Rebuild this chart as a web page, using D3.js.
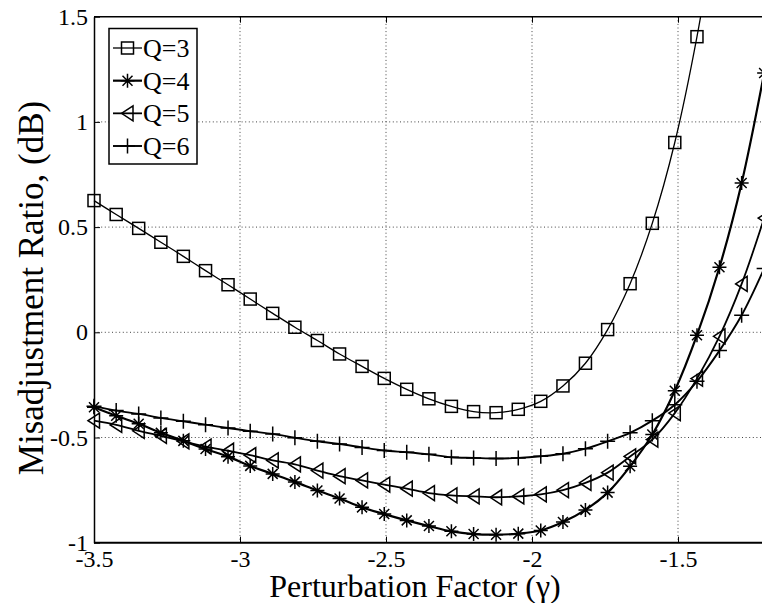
<!DOCTYPE html>
<html>
<head>
<meta charset="utf-8">
<script src="https://cdn.jsdelivr.net/npm/d3@7"></script>
<style>
  html, body { margin: 0; padding: 0; background: #fff; }
  svg { display: block; }
  .label { font-family: "Liberation Serif", "Times New Roman", serif; fill: #000; }
</style>
</head>
<body>
<div id="chart"></div>
<script>
// perturbation factor at each marker
const gamma = [-3.500, -3.424, -3.347, -3.271, -3.194, -3.118, -3.041, -2.965, -2.888, -2.812,
  -2.735, -2.659, -2.582, -2.506, -2.429, -2.353, -2.276, -2.200, -2.123, -2.047,
  -1.970, -1.894, -1.817, -1.741, -1.664, -1.588, -1.511, -1.435, -1.358, -1.282, -1.205];

const q3 = [0.626, 0.56, 0.494, 0.428, 0.361, 0.293, 0.226, 0.158, 0.090, 0.024,
  -0.039, -0.103, -0.162, -0.219, -0.271, -0.316, -0.352, -0.377, -0.382, -0.366,
  -0.328, -0.255, -0.147, 0.013, 0.231, 0.518, 0.902, 1.405, 2.05];
const q4 = [-0.356, -0.397, -0.435, -0.478, -0.516, -0.555, -0.591, -0.635, -0.673, -0.711,
  -0.752, -0.790, -0.832, -0.864, -0.894, -0.921, -0.946, -0.959, -0.962, -0.957,
  -0.942, -0.902, -0.844, -0.762, -0.637, -0.486, -0.278, -0.014, 0.309, 0.710, 1.232];
const q5 = [-0.42, -0.44, -0.468, -0.492, -0.518, -0.543, -0.563, -0.584, -0.609, -0.628,
  -0.657, -0.684, -0.704, -0.724, -0.743, -0.764, -0.775, -0.780, -0.784, -0.780,
  -0.770, -0.750, -0.716, -0.667, -0.590, -0.510, -0.384, -0.220, -0.019, 0.230, 0.543];
const q6 = [-0.352, -0.372, -0.388, -0.407, -0.423, -0.439, -0.455, -0.470, -0.483, -0.501,
  -0.518, -0.531, -0.547, -0.562, -0.570, -0.580, -0.594, -0.597, -0.600, -0.597,
  -0.589, -0.577, -0.553, -0.518, -0.478, -0.420, -0.344, -0.233, -0.087, 0.081, 0.303];

const seriesNames = ['Q=3', 'Q=4', 'Q=5', 'Q=6'];
const xTicks = [-3.5, -3, -2.5, -2, -1.5];
const xTickLabels = ['-3.5', '-3', '-2.5', '-2', '-1.5'];
const yTicks = [-1, -0.5, 0, 0.5, 1, 1.5];
const yTickLabels = ['-1', '-0.5', '0', '0.5', '1', '1.5'];

const width = 762;
const height = 603;
const serif = '"Liberation Serif", "Times New Roman", serif';
// the scanned figure is cut at the right, so the axes run past the page edge
const plot = { left: 94, top: 16.7, bottom: 542.7, right: 824 };

const svg = d3.select('#chart').append('svg')
  .attr('width', width)
  .attr('height', height)
  .attr('viewBox', `0 0 ${width} ${height}`);

svg.append('rect').attr('width', width).attr('height', height).attr('fill', '#fff');

const x = d3.scaleLinear().domain([-3.5, -1]).range([plot.left, plot.right]);
const y = d3.scaleLinear().domain([-1, 1.5]).range([plot.bottom, plot.top]);

svg.append('defs').append('clipPath').attr('id', 'plot-clip')
  .append('rect')
  .attr('x', 0)
  .attr('y', plot.top)
  .attr('width', width)
  .attr('height', plot.bottom - plot.top);

// dotted grid
const grid = svg.append('g').attr('stroke', '#444').attr('stroke-width', 1).attr('stroke-dasharray', '1,2.6');
grid.selectAll('.gx').data(xTicks.slice(1)).join('line')
  .attr('x1', (d) => x(d)).attr('x2', (d) => x(d))
  .attr('y1', plot.top).attr('y2', plot.bottom);
grid.selectAll('.gy').data(yTicks.slice(1, -1)).join('line')
  .attr('x1', plot.left).attr('x2', width)
  .attr('y1', (d) => y(d)).attr('y2', (d) => y(d));

const series = [
  { name: seriesNames[0], values: q3, marker: 'square', width: 1.3 },
  { name: seriesNames[1], values: q4, marker: 'star', width: 2.2 },
  { name: seriesNames[2], values: q5, marker: 'triangle', width: 1.8 },
  { name: seriesNames[3], values: q6, marker: 'plus', width: 1.9 }
];

function drawMarker(g, type) {
  g.attr('fill', 'none').attr('stroke', '#000').attr('stroke-width', 1.5);
  if (type === 'square') {
    g.append('rect').attr('x', -6).attr('y', -6).attr('width', 12).attr('height', 12);
  } else if (type === 'star') {
    g.append('path').attr('d', 'M0,-7V7M-7,0H7M-5,-5L5,5M-5,5L5,-5');
  } else if (type === 'triangle') {
    g.append('path').attr('d', 'M-6,0L5.5,-7.5V7.5Z');
  } else {
    g.append('path').attr('d', 'M0,-7.5V7.5M-7.5,0H7.5');
  }
}

const line = d3.line()
  .x((d) => x(d.g))
  .y((d) => y(d.v))
  .curve(d3.curveCatmullRom.alpha(0.5));

const data = svg.append('g').attr('clip-path', 'url(#plot-clip)');

series.forEach((s) => {
  const pts = s.values.map((v, i) => ({ g: gamma[i], v }));
  data.append('path')
    .datum(pts)
    .attr('fill', 'none')
    .attr('stroke', '#000')
    .attr('stroke-width', s.width)
    .attr('d', line);
  data.append('g').selectAll('g').data(pts).join('g')
    .attr('transform', (d) => `translate(${x(d.g)},${y(d.v)})`)
    .each(function () { drawMarker(d3.select(this), s.marker); });
});

// axes, MATLAB style with inward ticks
const xAxis = svg.append('g')
  .attr('transform', `translate(0,${plot.bottom})`)
  .call(d3.axisBottom(x).tickValues(xTicks).tickFormat((d, i) => xTickLabels[i])
    .tickSizeInner(-6).tickSizeOuter(0).tickPadding(7));
xAxis.select('.domain').attr('d', `M${plot.left},0H${width}`).attr('stroke-width', 2);

const yAxis = svg.append('g')
  .attr('transform', `translate(${plot.left},0)`)
  .call(d3.axisLeft(y).tickValues(yTicks).tickFormat((d, i) => yTickLabels[i])
    .tickSizeInner(-6).tickSizeOuter(0).tickPadding(6));
yAxis.select('.domain').attr('stroke-width', 1.5);

const topAxis = svg.append('g')
  .attr('transform', `translate(0,${plot.top})`)
  .call(d3.axisTop(x).tickValues(xTicks).tickFormat('').tickSizeInner(-6).tickSizeOuter(0));
topAxis.select('.domain').attr('d', `M${plot.left},0H${width}`).attr('stroke-width', 1.5);

[xAxis, yAxis, topAxis].forEach((axis) => {
  axis.attr('font-family', serif).attr('font-size', 24);
  axis.selectAll('text').style('font-family', serif).style('font-size', '24px').attr('fill', '#000');
});

// axis titles
svg.append('text').attr('class', 'label')
  .attr('x', 415).attr('y', 597)
  .attr('text-anchor', 'middle')
  .attr('font-size', 32)
  .text('Perturbation Factor (γ)');

svg.append('text').attr('class', 'label')
  .attr('transform', 'translate(43,288) rotate(-90)')
  .attr('text-anchor', 'middle')
  .attr('font-size', 35)
  .text('Misadjustment Ratio, (dB)');

// legend
const legend = svg.append('g');
legend.append('rect')
  .attr('x', 109).attr('y', 28.5).attr('width', 88).attr('height', 135.5)
  .attr('fill', '#fff').attr('stroke', '#000').attr('stroke-width', 1.5);

const legendY = d3.scalePoint().domain(seriesNames).range([48, 146]);
series.forEach((s) => {
  const row = legend.append('g').attr('transform', `translate(0,${legendY(s.name)})`);
  row.append('line').attr('x1', 113).attr('x2', 142).attr('stroke', '#000').attr('stroke-width', s.width);
  drawMarker(row.append('g').attr('transform', 'translate(127.5,0)'), s.marker);
  row.append('text').attr('class', 'label')
    .attr('x', 143).attr('y', 9)
    .attr('font-size', 26)
    .text(s.name);
});
</script>
</body>
</html>
